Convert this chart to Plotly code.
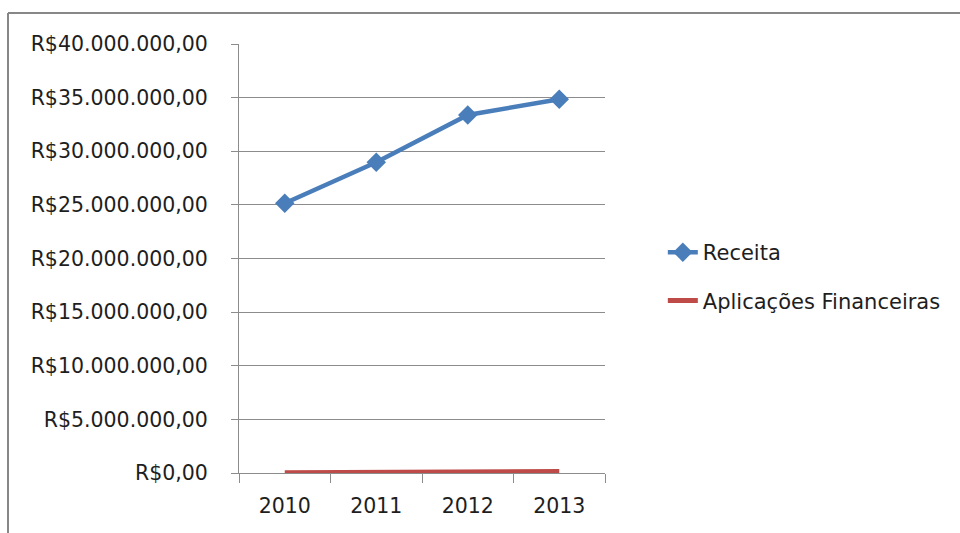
import plotly.graph_objects as go

years = ["2010", "2011", "2012", "2013"]
receita = [25150000, 28970000, 33380000, 34850000]
aplicacoes = [20000, 30000, 50000, 150000]
y_tick_vals = [0, 5000000, 10000000, 15000000, 20000000, 25000000, 30000000, 35000000, 40000000]
y_tick_text = ["R$0,00", "R$5.000.000,00", "R$10.000.000,00", "R$15.000.000,00",
               "R$20.000.000,00", "R$25.000.000,00", "R$30.000.000,00",
               "R$35.000.000,00", "R$40.000.000,00"]

FONT = "'DejaVu Sans', sans-serif"
GRAY = "#8c8c8c"
TXT = "#1e1e1e"

fig = go.Figure()
fig.add_trace(go.Scatter(
    x=years, y=receita, name="Receita", mode="lines+markers",
    line=dict(color="#4A7EBB", width=4.5),
    marker=dict(symbol="diamond", size=15, color="#4A7EBB"),
    legendgroup="a",
))
fig.add_trace(go.Scatter(
    x=years, y=aplicacoes, name="Aplicações Financeiras", mode="lines",
    line=dict(color="#BE4B48", width=5),
    legendgroup="b",
))

L, R, T, B = 239, 605, 44, 473
W, H = 960, 533

fig.update_layout(
    width=W, height=H,
    margin=dict(l=L, r=W - R, t=T, b=H - B, pad=0),
    paper_bgcolor="white", plot_bgcolor="white",
    font=dict(family=FONT, size=20.5, color=TXT),
    showlegend=True,
    legend=dict(x=1.158, y=0.458, xanchor="left", yanchor="middle",
                font=dict(family=FONT, size=21, color=TXT),
                tracegroupgap=18, itemwidth=30, bgcolor="rgba(0,0,0,0)"),
    xaxis=dict(
        type="category", range=[-0.5, 3.5],
        showgrid=False, showline=True, linecolor=GRAY, linewidth=1,
        ticks="outside", ticklen=9, tickcolor=GRAY, tickson="boundaries",
        ticklabelstandoff=14,
        tickfont=dict(family=FONT, size=20.5, color=TXT),
        zeroline=False,
    ),
    yaxis=dict(
        range=[0, 40000000], tickvals=y_tick_vals, ticktext=y_tick_text,
        showgrid=True, gridcolor=GRAY, gridwidth=1,
        showline=True, linecolor=GRAY, linewidth=1,
        ticks="outside", ticklen=7, tickcolor=GRAY,
        ticklabelstandoff=19,
        tickfont=dict(family=FONT, size=20.5, color=TXT),
        zeroline=False,
    ),
)

# chart border (Excel-like frame)
px = lambda p: (p - L) / (R - L)
py = lambda p: (B - p) / (B - T)
fig.add_shape(type="line", xref="paper", yref="paper",
              x0=px(8), x1=px(962), y0=py(13), y1=py(13),
              line=dict(color="#878787", width=2))
fig.add_shape(type="line", xref="paper", yref="paper",
              x0=px(8), x1=px(8), y0=py(13), y1=py(535),
              line=dict(color="#878787", width=2))

fig.write_html("out.html", config={"displayModeBar": False},
               post_script="document.body.style.margin='0';document.body.style.overflow='hidden';")
